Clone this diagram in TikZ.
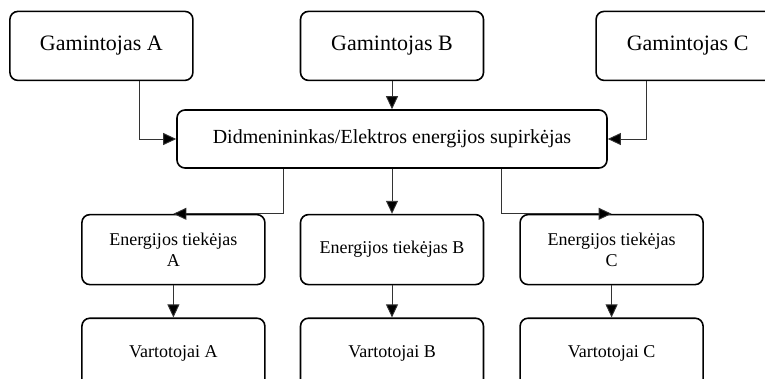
\documentclass[tikz,border=0pt]{standalone}
\usepackage{fontspec}
\setmainfont{Liberation Serif}
\usetikzlibrary{arrows.meta,positioning}
\definecolor{Ink}{HTML}{000000}
\definecolor{Wire}{HTML}{333333}
\tikzset{
  box/.style={
    rounded corners=8pt,draw=Ink,line width=1.6pt,fill=white,
    minimum width=183pt,minimum height=69pt,align=center,
    inner sep=2pt,text=Ink
  },
  big/.style={font=\fontsize{22}{26}\selectfont},
  small/.style={font=\fontsize{18}{21}\selectfont,minimum height=70pt},
  arrow/.style={-{Triangle[length=13pt,width=12pt,fill=Ink]},line width=0.9pt,draw=Wire}
}

\begin{document}
\begin{tikzpicture}[node distance=45pt and 34pt]
  \useasboundingbox (0,0) rectangle (765pt,-378pt);
  \node[box,minimum width=430pt,minimum height=58pt,font=\fontsize{20}{24}\selectfont]
    (buyer) at (392pt,-139pt) {Didmenininkas/Elektros energijos supirkėjas};
  \node[box,big,above=28pt of buyer] (genB) {Gamintojas B};
  \node[box,big,left=106pt of genB] (genA) {Gamintojas A};
  \node[box,big,right=111pt of genB] (genC) {Gamintojas C};
  \node[box,small,below=of buyer] (supB) {Energijos tiekėjas B};
  \node[box,small,left=of supB] (supA) {Energijos tiekėjas\\A};
  \node[box,small,right=35pt of supB] (supC) {Energijos tiekėjas\\C};
  \node[box,small,below=32pt of supA] (useA) {Vartotojai A};
  \node[box,small,below=32pt of supB] (useB) {Vartotojai B};
  \node[box,small,below=32pt of supC] (useC) {Vartotojai C};

  \draw[arrow] ([xshift=38.5pt]genA.south) |- (buyer.west);
  \draw[arrow] (genB) -- (buyer);
  \draw[arrow] ([xshift=-41pt]genC.south) |- (buyer.east);
  \draw[arrow] ([xshift=-109pt]buyer.south) |- (supA.north);
  \draw[arrow] (buyer) -- (supB);
  \draw[arrow] ([xshift=109pt]buyer.south) |- (supC.north);
  \draw[arrow] (supA) -- (useA);
  \draw[arrow] (supB) -- (useB);
  \draw[arrow] (supC) -- (useC);
\end{tikzpicture}
\end{document}
